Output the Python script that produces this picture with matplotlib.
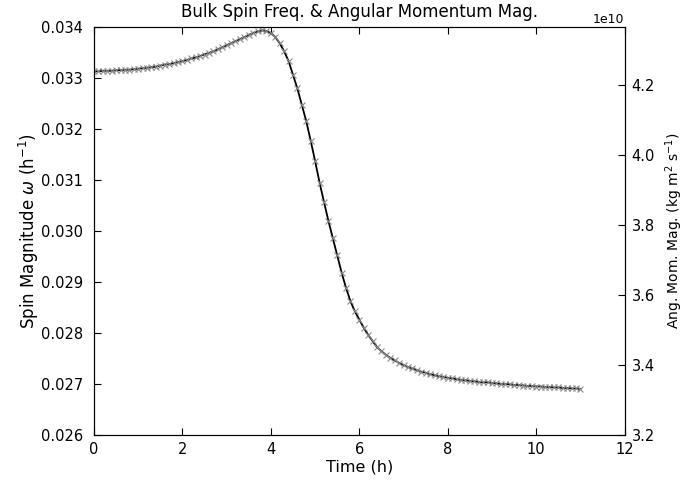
import numpy as np
import matplotlib
matplotlib.use("Agg")
import matplotlib.pyplot as plt

# tempo (h), passo de 0.1 h
tempo = np.linspace(0, 11, 111)

# magnitude do spin (h^-1)
omega = [
    0.03313, 0.03313, 0.03314, 0.03314, 0.03314, 0.03315, 0.03315, 0.03316, 0.03316, 0.03317,
    0.03318, 0.03319, 0.03320, 0.03321, 0.03322, 0.03324, 0.03326, 0.03327, 0.03329, 0.03331,
    0.03333, 0.03335, 0.03338, 0.03340, 0.03343, 0.03346, 0.03349, 0.03352, 0.03356, 0.03360,
    0.03364, 0.03368, 0.03372, 0.03376, 0.03380, 0.03384, 0.03388, 0.03391, 0.03393, 0.03392,
    0.03388, 0.03380, 0.03368, 0.03352, 0.03333, 0.03306, 0.03279, 0.03247, 0.03215, 0.03177,
    0.03137, 0.03095, 0.03057, 0.03020, 0.02986, 0.02952, 0.02918, 0.02888, 0.02862, 0.02842,
    0.02826, 0.02810, 0.02796, 0.02784, 0.02772, 0.02764, 0.02757, 0.02751, 0.02746, 0.02741,
    0.02737, 0.02733, 0.02730, 0.02727, 0.02724, 0.02722, 0.02719, 0.02717, 0.02715, 0.02714,
    0.02712, 0.02711, 0.02709, 0.02708, 0.02707, 0.02706, 0.02705, 0.02704, 0.02703, 0.02703,
    0.02702, 0.02701, 0.02700, 0.02700, 0.02699, 0.02698, 0.02698, 0.02697, 0.02696, 0.02696,
    0.02695, 0.02695, 0.02694, 0.02694, 0.02693, 0.02693, 0.02692, 0.02692, 0.02691, 0.02691,
    0.02690,
]

# momento angular (x 1e10 kg m^2 s^-1)
momento = [
    4.239, 4.239, 4.241, 4.241, 4.241, 4.242, 4.242, 4.244, 4.244, 4.245,
    4.246, 4.248, 4.249, 4.251, 4.252, 4.255, 4.258, 4.260, 4.263, 4.265,
    4.268, 4.271, 4.276, 4.279, 4.283, 4.287, 4.292, 4.296, 4.302, 4.308,
    4.314, 4.319, 4.325, 4.331, 4.337, 4.343, 4.349, 4.353, 4.356, 4.354,
    4.349, 4.337, 4.319, 4.296, 4.268, 4.229, 4.190, 4.143, 4.096, 4.041,
    3.983, 3.921, 3.866, 3.812, 3.763, 3.713, 3.663, 3.620, 3.582, 3.553,
    3.529, 3.506, 3.486, 3.468, 3.451, 3.439, 3.429, 3.420, 3.413, 3.406,
    3.400, 3.394, 3.390, 3.385, 3.381, 3.378, 3.373, 3.371, 3.368, 3.366,
    3.363, 3.362, 3.359, 3.357, 3.356, 3.354, 3.353, 3.352, 3.350, 3.350,
    3.349, 3.347, 3.346, 3.346, 3.344, 3.343, 3.343, 3.341, 3.340, 3.340,
    3.338, 3.338, 3.337, 3.337, 3.336, 3.336, 3.334, 3.334, 3.333, 3.333,
    3.331,
]

fig, ax = plt.subplots(figsize=(6.91, 4.8), dpi=100)
fig.subplots_adjust(left=0.136, right=0.904, bottom=0.094, top=0.944)

ax.plot(tempo, omega, color='black', linewidth=1.3)
ax.set_xlim(0, 12)
ax.set_ylim(0.026, 0.034)
ax.set_xticks(np.arange(0, 13, 2))
ax.set_yticks(np.arange(0.026, 0.0345, 0.001))
ax.yaxis.set_major_formatter(matplotlib.ticker.FormatStrFormatter('%.3f'))
ax.tick_params(direction='in', top=True, labelsize=10.5, length=5)
ax.tick_params(axis='y', pad=8)
ax.tick_params(axis='x', pad=5)
ax.set_xlabel("Time (h)", fontsize=11.5, labelpad=2)
ax.set_ylabel(r"Spin Magnitude $\omega$ (h$^{-1}$)", fontsize=12, labelpad=0)
ax.set_title("Bulk Spin Freq. & Angular Momentum Mag.", fontsize=12, pad=7)

ax2 = ax.twinx()
ax2.plot(tempo, np.array(momento) * 1e10, linestyle='none', marker='x',
         color='#8c8c8c', markersize=5, markeredgewidth=0.8)
ax2.set_ylim(3.2e10, 4.366e10)
ax2.tick_params(direction='in', labelsize=10.5, length=5, pad=5)
ax2.set_ylabel(r"Ang. Mom. Mag. (kg m$^2$ s$^{-1}$)", fontsize=10, labelpad=6)
ax2.yaxis.get_offset_text().set_fontsize(9)
ax2.yaxis.get_offset_text().set_y(1.035)

plt.savefig("out.png", dpi=100)
